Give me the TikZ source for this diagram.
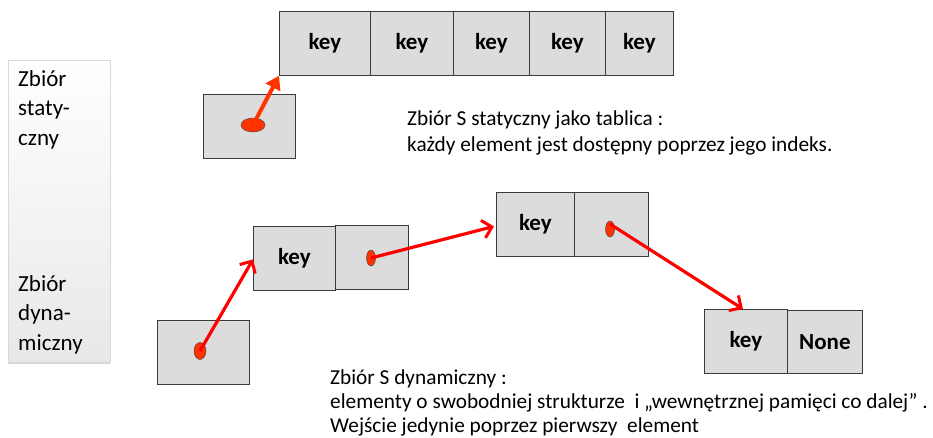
\documentclass[tikz,border=0pt]{standalone}
\usepackage{fontspec}
\setmainfont{Carlito}
\usetikzlibrary{arrows.meta,shadows,shapes.geometric}
\definecolor{cellfill}{HTML}{DCDCDC}
\definecolor{cellline}{HTML}{3A3A3A}
\definecolor{ptrred}{HTML}{FF0000}
\definecolor{dotred}{HTML}{FF3300}
\tikzset{
  cell/.style={draw=cellline, fill=cellfill, line width=0.8pt, anchor=north west,
    inner sep=0pt, font=\fontsize{23}{23}\selectfont\bfseries},
  dot/.style={ellipse, draw=black!70, fill=dotred, line width=0.5pt, inner sep=0pt},
  link/.style={draw=ptrred, line width=3.2pt, -{Straight Barb[length=9pt,width=18pt,line width=3pt]}},
  biglink/.style={draw=dotred, line width=4pt, -{Triangle[length=13pt,width=16pt]}},
  caption/.style={anchor=north west, align=left, inner sep=0pt,
    font=\fontsize{21.3}{24}\selectfont},
  sidelabel/.style={anchor=north west, align=left, inner sep=0pt,
    font=\fontsize{23}{29.5}\selectfont}
}
\begin{document}
\begin{tikzpicture}[x=1pt,y=-1pt]
\useasboundingbox (0,0) rectangle (933,437);

% side panel
\node[draw=black!15, top color=white, bottom color=black!9, anchor=north west,
  minimum width=102pt, minimum height=302pt, inner sep=0pt,
  drop shadow={shadow xshift=0pt, shadow yshift=-1.5pt, opacity=0.35}] (panel) at (8,60) {};
\node[sidelabel] (lstat) at (18,70) {Zbiór\\staty-\\czny};
\node[sidelabel] (ldyn) at (18,275) {Zbiór\\dyna-\\miczny};

% static array
\node[cell, minimum width=91pt, minimum height=64pt] (a1) at (279,11) {key};
\node[cell, minimum width=83pt, minimum height=64pt] (a2) at (370,11) {key};
\node[cell, minimum width=76pt, minimum height=64pt] (a3) at (453,11) {key};
\node[cell, minimum width=76pt, minimum height=64pt] (a4) at (529,11) {key};
\node[cell, minimum width=68pt, minimum height=64pt] (a5) at (605,11) {key};

% pointer to the array
\node[cell, minimum width=92pt, minimum height=64pt] (sp) at (203,94) {};
\node[dot, minimum width=24pt, minimum height=14pt] (spd) at (253,125) {};
\draw[biglink] (spd.center) -- (a1.south west);

\node[caption, font=\fontsize{21.3}{26}\selectfont] (stext) at (407,111)
  {Zbiór S statyczny jako tablica :\\każdy element jest dostępny poprzez jego indeks.};

% linked list
\node[cell, minimum width=92pt, minimum height=64pt] (hp) at (157,320) {};
\node[dot, minimum width=12pt, minimum height=17pt] (hpd) at (200,351) {};

\node[cell, minimum width=82pt, minimum height=64pt] (k1) at (253,226) {key};
\node[cell, minimum width=73pt, minimum height=64pt] (p1) at (335,225) {};
\node[dot, minimum width=9pt, minimum height=16pt] (p1d) at (371,258) {};

\node[cell, minimum width=78pt, minimum height=64pt] (k2) at (496,192) {key};
\node[cell, minimum width=74pt, minimum height=64pt] (p2) at (574,192) {};
\node[dot, minimum width=9pt, minimum height=16pt] (p2d) at (610,229) {};

\node[cell, minimum width=83pt, minimum height=64pt] (k3) at (704,309) {key};
\node[cell, minimum width=75pt, minimum height=63pt] (n3) at (787,310) {None};

\draw[link] (hpd.center) -- ([yshift=-1pt]k1.west);
\draw[link] (p1d.center) -- ([xshift=-2pt,yshift=-2pt]k2.west);
\draw[link] ([yshift=5pt]p2d.center) -- ([xshift=-3pt]k3.north);

\node[caption] (dtext) at (330,370) {Zbiór S dynamiczny :\\elementy o swobodniej strukturze\ \ i „wewnętrznej pamięci co dalej” .\\Wejście jedynie poprzez pierwszy\ \ element};
\end{tikzpicture}
\end{document}
